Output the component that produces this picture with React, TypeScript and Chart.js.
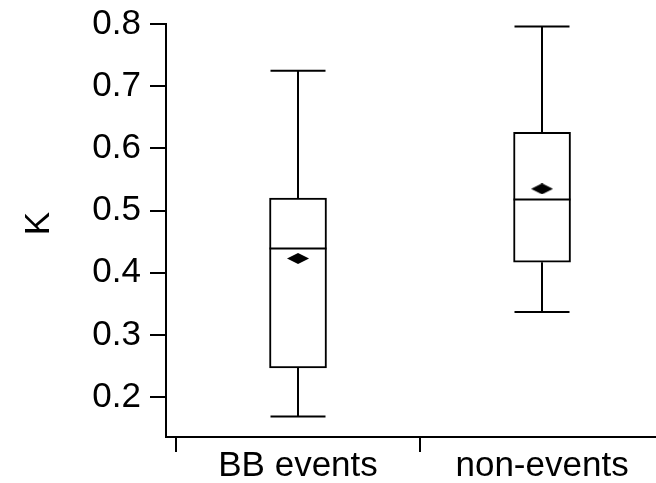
import React, { useEffect, useRef } from "react";
import { Chart, registerables } from "chart.js";

Chart.register(...registerables);

const categories = ["BB events", "non-events"];
const whiskerLow = [0.169, 0.337];
const q1 = [0.247, 0.417];
const median = [0.439, 0.518];
const q3 = [0.52, 0.626];
const whiskerHigh = [0.725, 0.796];
const means = [0.423, 0.535];
const yTicks = [0.2, 0.3, 0.4, 0.5, 0.6, 0.7, 0.8];
const yTitle = "K";

const FONT = '"Liberation Sans", Arial, Helvetica, sans-serif';
const FONT_SIZE = 35;
const BOX_WIDTH = 57;
const CAP_WIDTH = 55;

function makeDiamond(): HTMLCanvasElement {
  const c = document.createElement("canvas");
  c.width = 22;
  c.height = 11;
  const g = c.getContext("2d")!;
  g.fillStyle = "#000";
  g.beginPath();
  g.moveTo(0, 5.5);
  g.lineTo(11, 0);
  g.lineTo(22, 5.5);
  g.lineTo(11, 11);
  g.closePath();
  g.fill();
  return c;
}

const boxPlugin = {
  id: "boxWhiskers",
  afterDatasetsDraw(chart: any) {
    const { ctx, scales } = chart;
    const xs = scales.x;
    const ys = scales.y;
    ctx.save();
    ctx.strokeStyle = "#000";
    ctx.lineWidth = 2;
    categories.forEach((_, i) => {
      const cx = Math.round(xs.getPixelForValue(i + 1));
      const pLow = ys.getPixelForValue(whiskerLow[i]);
      const pQ1 = ys.getPixelForValue(q1[i]);
      const pMed = ys.getPixelForValue(median[i]);
      const pQ3 = ys.getPixelForValue(q3[i]);
      const pHigh = ys.getPixelForValue(whiskerHigh[i]);
      ctx.beginPath();
      ctx.moveTo(cx, pQ3);
      ctx.lineTo(cx, pHigh);
      ctx.moveTo(cx - CAP_WIDTH / 2, pHigh);
      ctx.lineTo(cx + CAP_WIDTH / 2, pHigh);
      ctx.moveTo(cx, pQ1);
      ctx.lineTo(cx, pLow);
      ctx.moveTo(cx - CAP_WIDTH / 2, pLow);
      ctx.lineTo(cx + CAP_WIDTH / 2, pLow);
      ctx.moveTo(cx - BOX_WIDTH / 2, pMed);
      ctx.lineTo(cx + BOX_WIDTH / 2, pMed);
      ctx.stroke();
    });
    ctx.restore();
  },
};

const yTitlePlugin = {
  id: "yTitle",
  afterDraw(chart: any) {
    const { ctx, chartArea } = chart;
    ctx.save();
    ctx.translate(39, (chartArea.top + chartArea.bottom) / 2 - 7);
    ctx.rotate(-Math.PI / 2);
    ctx.fillStyle = "#000";
    ctx.font = `${FONT_SIZE}px ${FONT}`;
    ctx.textAlign = "center";
    ctx.textBaseline = "middle";
    ctx.fillText(yTitle, 0, 0);
    ctx.restore();
  },
};

export default function App() {
  const ref = useRef<HTMLCanvasElement | null>(null);

  useEffect(() => {
    document.body.style.margin = "0";
    if (!ref.current) return;
    const diamond = makeDiamond();
    const chart = new Chart(ref.current, {
      type: "bar",
      data: {
        datasets: [
          {
            type: "bar",
            data: categories.map((_, i) => ({ x: i + 1, y: [q1[i], q3[i]] })) as any,
            backgroundColor: "#fff",
            borderColor: "#000",
            borderWidth: 2,
            borderSkipped: false,
            barThickness: BOX_WIDTH,
            order: 2,
          } as any,
          {
            type: "scatter",
            data: categories.map((_, i) => ({ x: i + 1, y: means[i] })),
            pointStyle: diamond as any,
            pointRadius: 6,
            order: 1,
          } as any,
        ],
      },
      plugins: [boxPlugin, yTitlePlugin],
      options: {
        responsive: false,
        animation: false,
        layout: { autoPadding: false, padding: { top: 24, right: 0, left: 0, bottom: 0 } },
        plugins: { legend: { display: false }, tooltip: { enabled: false } },
        scales: {
          x: {
            type: "linear",
            min: 0.459,
            max: 2.467,
            offset: false,
            afterBuildTicks: (s: any) => {
              s.ticks = categories.map((_, i) => ({ value: i + 1 }));
            },
            afterFit: (s: any) => {
              s.height = 46;
              s.paddingLeft = 0;
              s.paddingRight = 0;
            },
            ticks: {
              callback: (v: any) => categories[Math.round(Number(v)) - 1] ?? "",
              color: "#000",
              padding: -7,
              font: { family: FONT, size: FONT_SIZE },
              maxRotation: 0,
            },
            grid: { offset: true, drawOnChartArea: false, tickLength: 15, color: "#000", lineWidth: 2 },
            border: { display: true, color: "#000", width: 2 },
          },
          y: {
            type: "linear",
            min: 0.136,
            max: 0.8,
            afterBuildTicks: (s: any) => {
              s.ticks = yTicks.map((v) => ({ value: v }));
            },
            afterFit: (s: any) => {
              s.width = 166;
              s.paddingTop = 0;
              s.paddingBottom = 0;
            },
            ticks: {
              callback: (v: any) => Number(v).toFixed(1),
              color: "#000",
              padding: 9,
              font: { family: FONT, size: FONT_SIZE },
            },
            grid: { drawOnChartArea: false, tickLength: 16, color: "#000", lineWidth: 2 },
            border: { display: true, color: "#000", width: 2 },
          },
        },
      } as any,
    });
    return () => chart.destroy();
  }, []);

  return (
    <div style={{ width: 656, height: 483 }}>
      <canvas ref={ref} width={656} height={483} />
    </div>
  );
}
